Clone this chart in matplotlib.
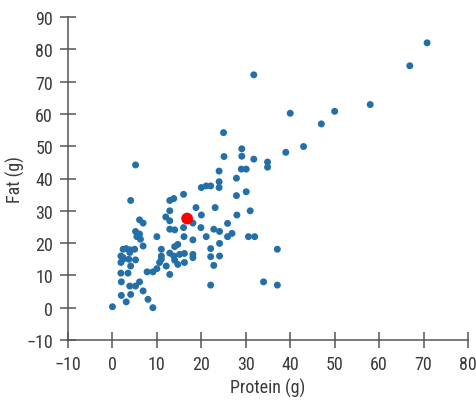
import matplotlib
matplotlib.use("Agg")
import matplotlib.pyplot as plt

plt.rcParams['font.family'] = ['Roboto Condensed', 'Liberation Sans', 'DejaVu Sans']

protein = [70.8, 66.9, 31.8, 58.0, 50.0, 40.0, 47.0, 25.0, 43.0, 39.0,
           29.1, 29.1, 25.1, 31.8, 34.9, 34.9, 5.2, 29.0, 30.1, 24.0,
           27.9, 24.0, 24.0, 20.0, 21.1, 22.1, 30.1, 27.9, 16.0, 13.8,
           12.9, 4.1, 23.1, 18.8, 20.0, 31.0, 28.0, 12.9, 12.0, 12.9,
           6.1, 6.9, 16.0, 18.1, 19.9, 25.9, 22.8, 24.1, 12.9, 14.0,
           5.2, 6.1, 5.5, 10.0, 16.1, 21.1, 25.9, 26.9, 30.6, 32.0,
           18.1, 24.1, 6.3, 6.9, 14.7, 14.0, 5.0, 3.1, 4.0, 1.9,
           2.4, 1.9, 3.7, 5.2, 4.1, 11.0, 11.0, 12.9, 13.8, 14.0,
           15.1, 16.2, 16.2, 18.1, 18.1, 22.1, 22.1, 24.1, 22.8, 37.1,
           10.6, 12.1, 12.9, 7.8, 9.1, 10.0, 1.9, 3.5, 2.0, 6.1,
           5.2, 3.9, 22.1, 34.0, 37.1, 6.9, 2.0, 4.1, 3.1, 8.0,
           9.1, 0.0, 2.4, 3.9, 2.4, 14.7, 11.0]
fat = [82.0, 74.9, 72.1, 62.9, 60.8, 60.2, 56.9, 54.2, 49.9, 48.1,
       49.2, 46.9, 46.8, 46.0, 45.1, 43.5, 44.2, 42.9, 42.9, 42.3,
       40.1, 39.0, 37.2, 37.2, 37.7, 37.7, 35.9, 34.7, 35.1, 33.8,
       33.2, 33.2, 31.0, 31.0, 28.7, 30.0, 28.7, 30.0, 28.1, 26.9,
       27.2, 26.2, 24.8, 26.2, 24.8, 26.1, 24.3, 23.6, 24.3, 24.1,
       23.6, 22.8, 22.0, 22.0, 22.0, 22.0, 22.0, 23.0, 22.0, 22.0,
       21.0, 19.9, 21.2, 19.1, 19.6, 18.9, 18.1, 18.3, 17.9, 16.0,
       15.5, 14.0, 15.0, 14.8, 12.9, 16.0, 15.0, 16.9, 16.0, 14.7,
       16.5, 16.8, 14.0, 16.5, 15.5, 18.3, 15.8, 16.0, 13.1, 18.1,
       14.0, 12.9, 10.3, 11.1, 11.1, 12.1, 10.7, 10.7, 8.0, 8.0,
       6.7, 6.7, 7.0, 8.0, 7.0, 5.2, 3.8, 4.1, 1.8, 2.6,
       0.0, 0.3, 18.1, 17.1, 15.0, 13.4, 18.1]

highlight_protein = [16.8]
highlight_fat = [27.6]

xticks = [-10, 0, 10, 20, 30, 40, 50, 60, 70, 80]
yticks = [-10, 0, 10, 20, 30, 40, 50, 60, 70, 80, 90]

fig = plt.figure(figsize=(4.77, 4.02), dpi=100)
ax = fig.add_axes([68 / 477, 61 / 402, 400 / 477, 323 / 402])
ax.scatter(protein, fat, s=25, color='#236fa8', edgecolors='none', zorder=3)
ax.scatter(highlight_protein, highlight_fat, s=72, color='#ff0000', edgecolors='none', zorder=4)

ax.set_xlim(-10, 80)
ax.set_ylim(-10, 90)
ax.set_xticks(xticks)
ax.set_yticks(yticks)
ax.set_xticklabels(['\u221210' if t == -10 else str(t) for t in xticks])
ax.set_yticklabels(['\u221210' if t == -10 else str(t) for t in yticks])
for s in ['top', 'right']:
    ax.spines[s].set_visible(False)
for s in ['left', 'bottom']:
    ax.spines[s].set_color('#555555')
    ax.spines[s].set_linewidth(1.1)
ax.tick_params(direction='inout', length=11.5, width=1.1, color='#555555',
               labelsize=13, labelcolor='#3a3a3a')
ax.tick_params(axis='y', pad=5)
ax.tick_params(axis='x', pad=5)
ax.set_xlabel('Protein (g)', fontsize=13, color='#3a3a3a')
ax.set_ylabel('Fat (g)', fontsize=13, color='#3a3a3a')
ax.xaxis.set_label_coords(0.5, -0.118)
ax.yaxis.set_label_coords(-0.107, 0.5)

fig.savefig('out.png', dpi=100)
